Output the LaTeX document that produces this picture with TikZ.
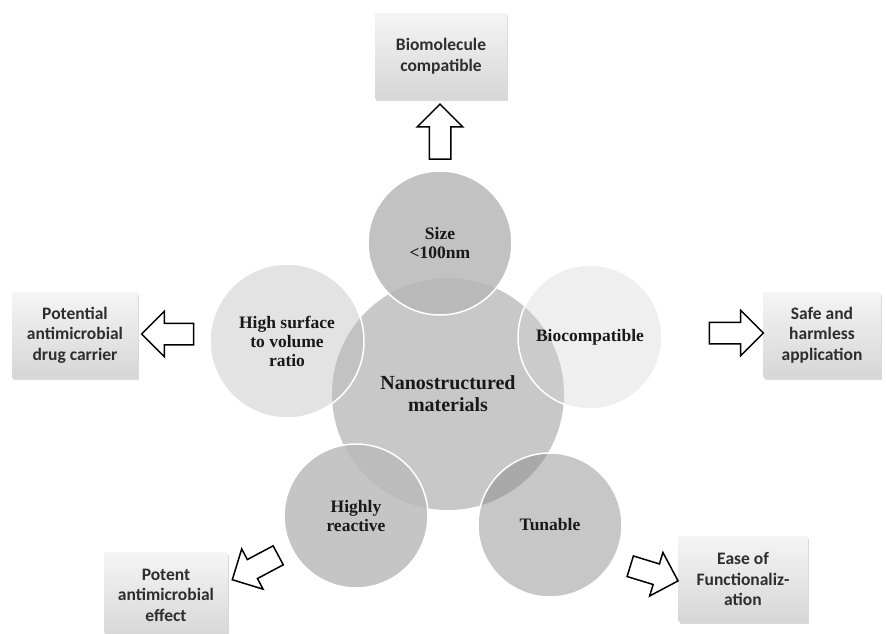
\documentclass[tikz,border=0pt]{standalone}
\usepackage{fontspec}
\setmainfont{Liberation Serif}
\newfontfamily\boxfont{Carlito}
\usetikzlibrary{shapes.arrows,shadows,positioning}
\definecolor{centregray}{gray}{0.784}
\definecolor{sizegray}{gray}{0.718}
\definecolor{biogray}{gray}{0.82}
\definecolor{surfgray}{gray}{0.725}
\definecolor{tunegray}{gray}{0.533}
\definecolor{reactgray}{gray}{0.73}
\definecolor{boxtop}{gray}{0.96}
\definecolor{boxbottom}{gray}{0.84}
\definecolor{labelgray}{gray}{0.18}
\definecolor{inkgray}{gray}{0.1}
\tikzset{
    satellite/.style 2 args={circle, draw=white, line width=1.5pt, fill=#1,
        fill opacity=#2, text opacity=1, minimum size=144pt, inner sep=0pt,
        align=center, text=inkgray, font=\fontsize{17.5}{19}\selectfont\bfseries},
    outcome/.style={rectangle, top color=boxtop, bottom color=boxbottom,
        minimum height=85pt, inner sep=0pt, align=center, text=labelgray,
        font=\boxfont\fontsize{17.5}{20.5}\selectfont\bfseries,
        drop shadow={shadow xshift=1pt, shadow yshift=-2pt, opacity=.3}},
    bigarrow/.style={single arrow, draw=black, line width=1.5pt, fill=white,
        inner xsep=0pt, inner ysep=10pt, minimum width=44pt,
        single arrow head extend=12pt}
}
\begin{document}
\begin{tikzpicture}[x=1pt,y=-1pt]
    \useasboundingbox (0,0) rectangle (886,634);

    % Draw the centre circle.
    \node at (448,394) [circle, fill=centregray, minimum size=232pt, inner sep=0pt,
        align=center, text=inkgray, font=\fontsize{20}{22}\selectfont\bfseries]
        (nano) {Nanostructured\\materials};

    % Draw the five property circles.
    \node at (440,243) [satellite={sizegray}{.85}] (size) {Size\\<100nm};
    \node at (590,337) [satellite={biogray}{.35}] (bio) {Biocompatible};
    \node at (287,341) [satellite={surfgray}{.4}, minimum size=154pt] (surf) {High surface\\to volume\\ratio};
    \node at (356,516) [satellite={reactgray}{.84}] (react) {Highly\\reactive};
    \node at (550,525) [satellite={tunegray}{.47}] (tune) {Tunable};

    % Draw the outcome boxes.
    \node at (441,56) [outcome, minimum width=132pt] (biomol) {Biomolecule\\compatible};
    \node at (75,335) [outcome, minimum width=126pt] (carrier) {Potential\\antimicrobial\\drug carrier};
    \node at (822,335) [outcome, minimum width=117pt] (safe) {Safe and\\harmless\\application};
    \node at (166,595) [outcome, minimum width=123pt] (potent) {Potent\\antimicrobial\\effect};
    \node at (743,579) [outcome, minimum width=129pt] (ease) {Ease of\\Functionaliz-\\ation};

    % Draw the block arrows.
    \foreach \X/\Y/\A/\L/\N in {440/137/90/55/upar, 173/334/180/52/leftar,
        731/333/0/54/rightar, 260/565/208/52/downar, 649/572/-17/50/easear}
        \node at (\X,\Y) [bigarrow, rotate=\A, minimum height=\L pt] (\N) {};

\end{tikzpicture}
\end{document}
